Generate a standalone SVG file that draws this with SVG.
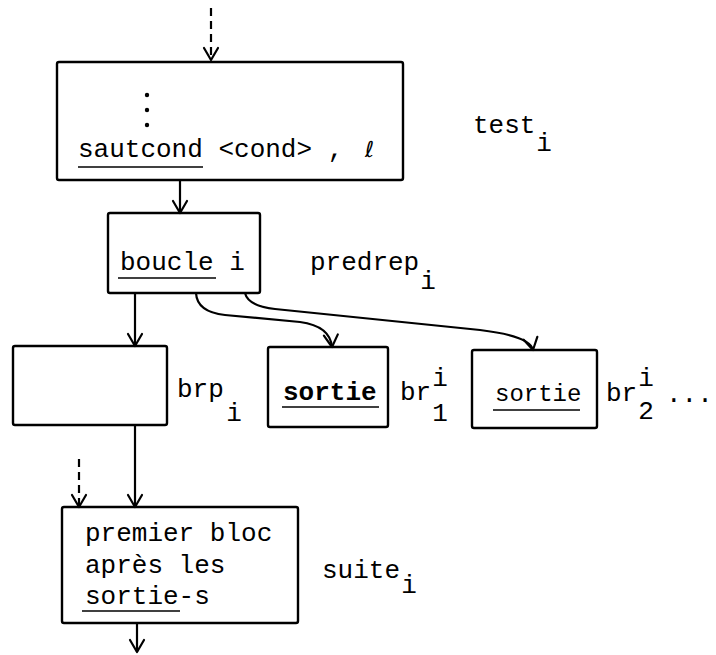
<svg xmlns="http://www.w3.org/2000/svg" width="716" height="655" viewBox="0 0 716 655">
<defs>
<marker id="arr" viewBox="-14 -9 16 18" markerWidth="16" markerHeight="18" refX="0" refY="0" orient="auto" markerUnits="userSpaceOnUse" overflow="visible">
<path d="M-12,-7 L0,0 L-12,7" fill="none" stroke="#000" stroke-width="2.2" stroke-linecap="round" stroke-linejoin="round"/>
</marker>
</defs>
<style>
.box{fill:none;stroke:#000;stroke-width:2.4}
.t{font-family:"Liberation Mono","DejaVu Sans Mono",monospace;font-size:26px;fill:#000}
.b{font-weight:bold}
.m{text-anchor:middle}
.ul{stroke:#000;stroke-width:1.6}
.c{fill:none;stroke:#000;stroke-width:2.2}
.d{stroke-dasharray:8 5}
</style>
<rect width="716" height="655" fill="#fff"/>
<g id="connectors">
<path class="c d" d="M211,8 L211,60" marker-end="url(#arr)"/>
<path class="c" d="M180,180 L180,213" marker-end="url(#arr)"/>
<path class="c" d="M135,293 L135,346" marker-end="url(#arr)"/>
<path class="c" d="M196,293 Q197,312 225,315 L300,322 Q330,326 332,347" marker-end="url(#arr)"/>
<path class="c" d="M245,293 Q248,306 275,309 L480,330 Q530,336 533,350" marker-end="url(#arr)"/>
<path class="c" d="M135,425 L135,507" marker-end="url(#arr)"/>
<path class="c d" d="M79,459 L79,507" marker-end="url(#arr)"/>
<path class="c" d="M137,623 L137,652" marker-end="url(#arr)"/>
</g>
<g id="test">
<rect class="box" x="57" y="62" width="346" height="118" rx="2"/>
<circle cx="147" cy="95" r="2.2"/>
<circle cx="147" cy="110" r="2.2"/>
<circle cx="147" cy="125" r="2.2"/>
<text class="t" x="78" y="157">sautcond &lt;cond&gt; ,</text>
<text x="365" y="157" style="font-family:'DejaVu Sans',sans-serif;font-size:22px;font-style:italic">ℓ</text>
<line class="ul" x1="78" y1="167" x2="203" y2="167"/>
<text class="t" x="473" y="133">test</text>
<text class="t m" x="544" y="151">i</text>
</g>
<g id="predrep">
<rect class="box" x="108" y="213" width="152" height="80" rx="2"/>
<text class="t" x="120" y="270">boucle i</text>
<line class="ul" x1="118" y1="278" x2="216" y2="278"/>
<text class="t" x="310" y="270">predrep</text>
<text class="t m" x="428" y="289">i</text>
</g>
<g id="brp">
<rect class="box" x="13" y="346" width="154" height="79" rx="2"/>
<text class="t" x="177" y="397">brp</text>
<text class="t m" x="234" y="421">i</text>
</g>
<g id="br1">
<rect class="box" x="268" y="347" width="120" height="80" rx="2"/>
<text class="t b" x="283" y="400">sortie</text>
<line class="ul" x1="282" y1="407" x2="379" y2="407"/>
<text class="t" x="400" y="400">br</text>
<text class="t m" x="440" y="386">i</text>
<text class="t m" x="440" y="421">1</text>
</g>
<g id="br2">
<rect class="box" x="472" y="350" width="125" height="78" rx="2"/>
<text class="t" x="495" y="401" style="font-size:24px">sortie</text>
<line class="ul" x1="493" y1="410" x2="580" y2="410"/>
<text class="t" x="606" y="401">br</text>
<text class="t m" x="646" y="386">i</text>
<text class="t m" x="646" y="419">2</text>
<text class="t" x="666" y="402">...</text>
</g>
<g id="suite">
<rect class="box" x="62" y="507" width="236" height="116" rx="2"/>
<text class="t" x="85" y="541">premier bloc</text>
<text class="t" x="85" y="573">après les</text>
<text class="t" x="85" y="604">sortie-s</text>
<line class="ul" x1="82" y1="611" x2="180" y2="611"/>
<text class="t" x="322" y="578">suite</text>
<text class="t m" x="409" y="593">i</text>
</g>
</svg>
